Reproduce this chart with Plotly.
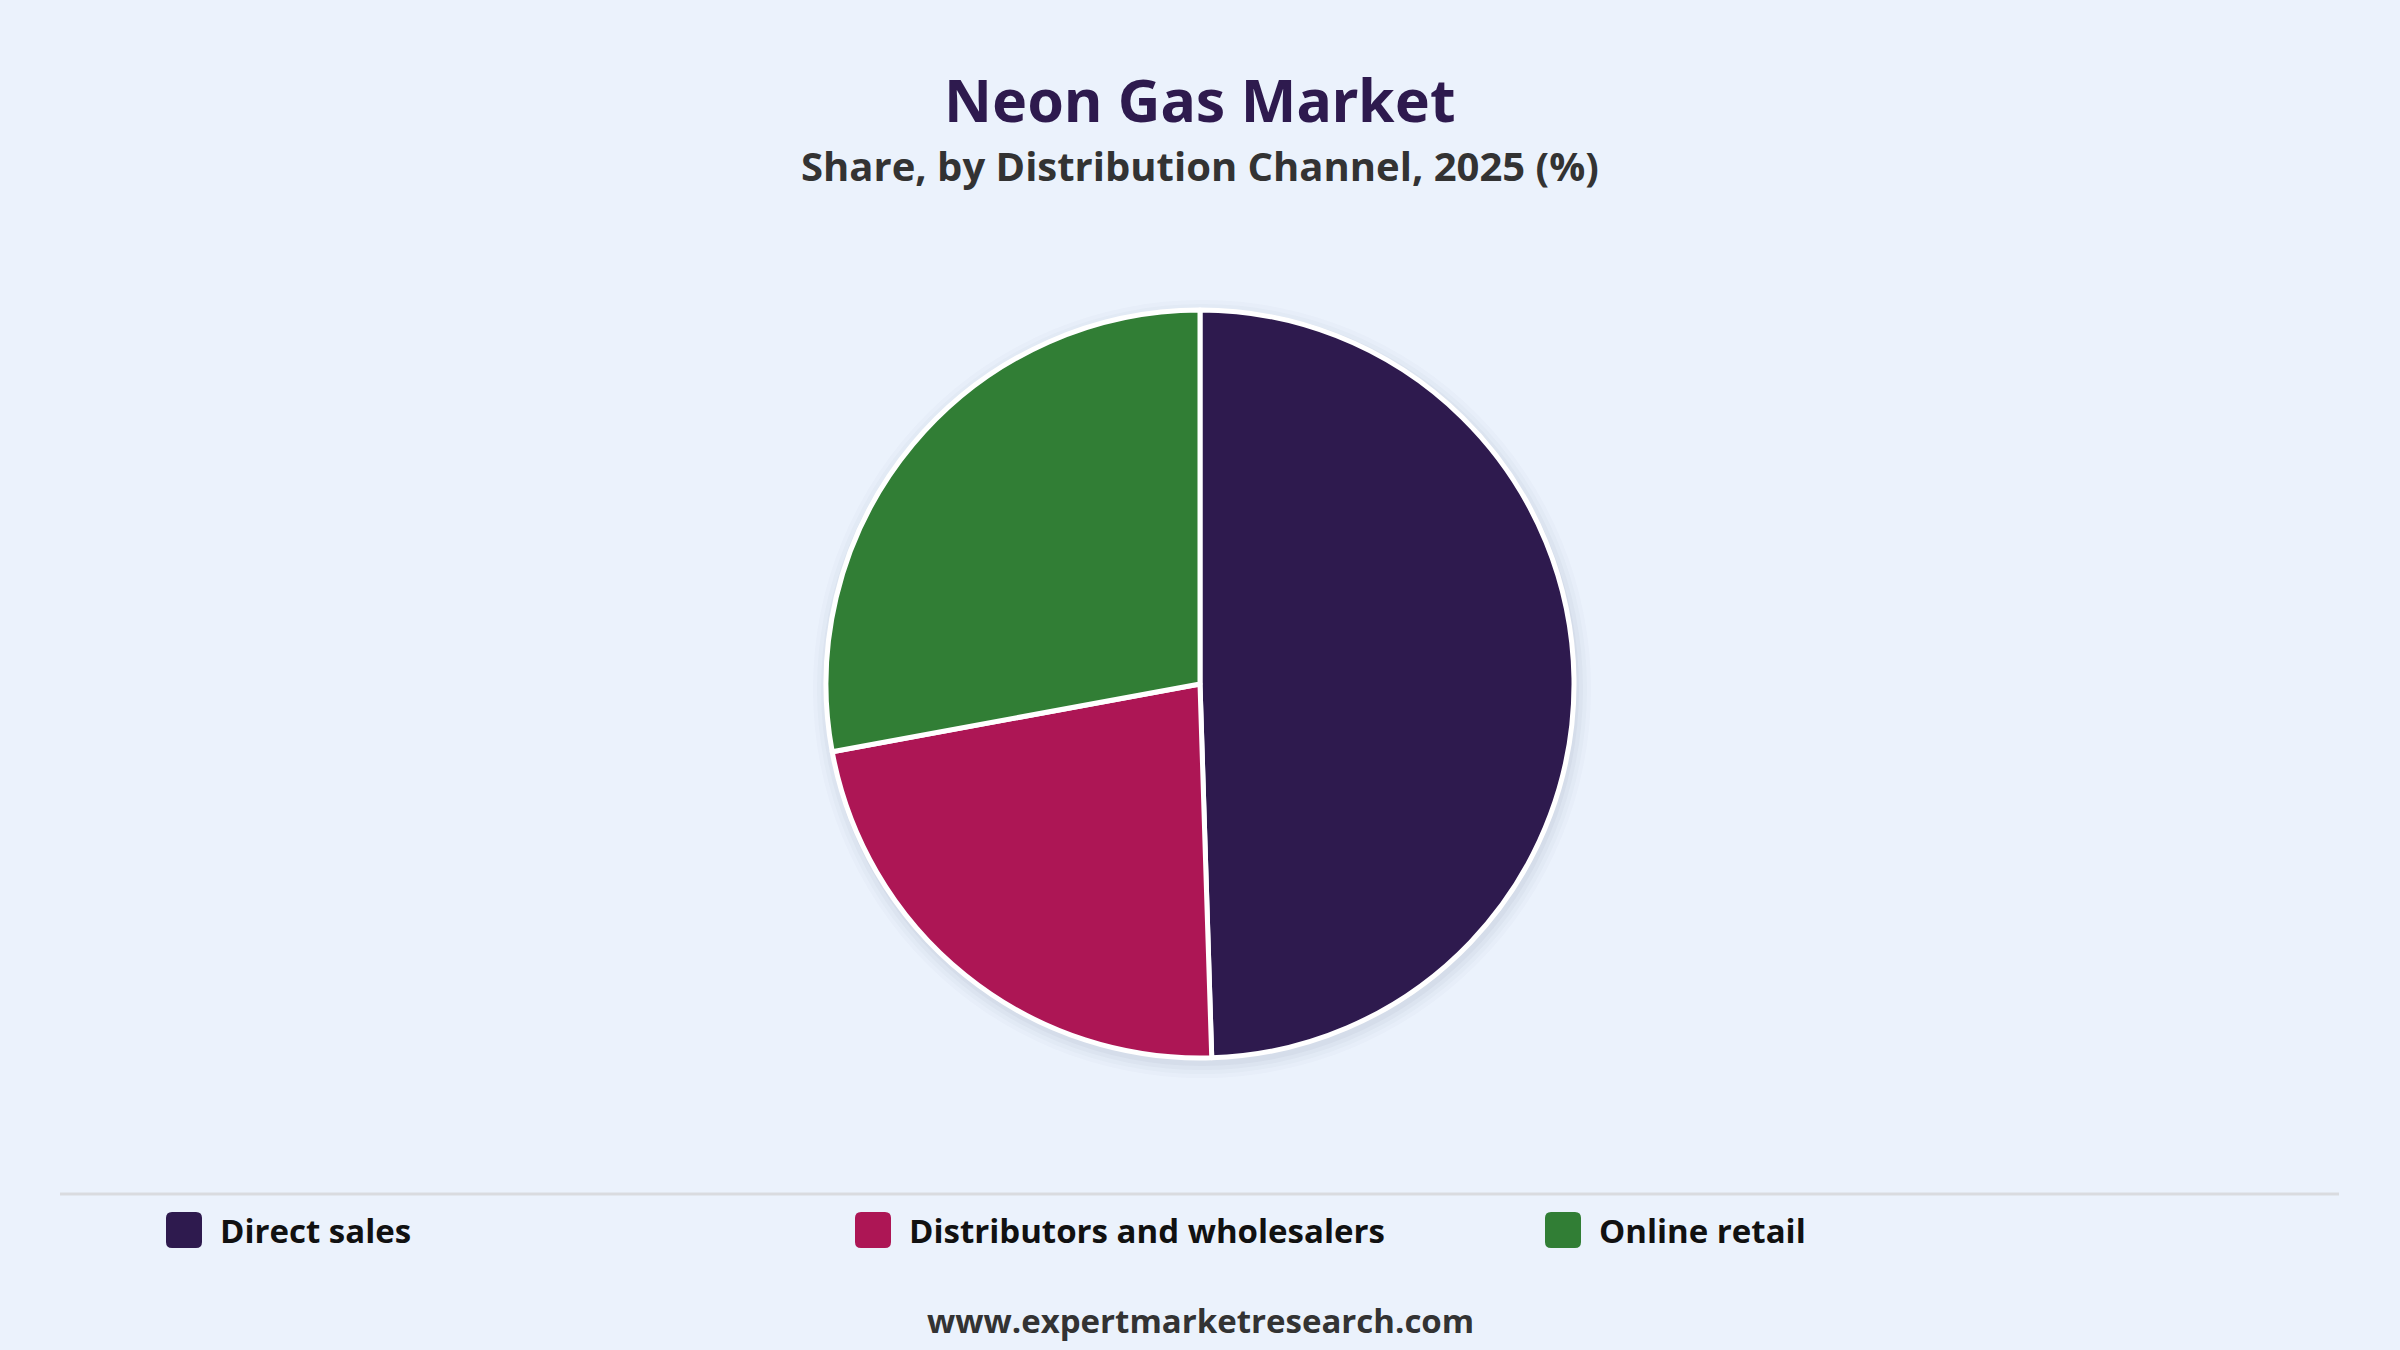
import plotly.graph_objects as go

# chart data
channels = ['Direct sales', 'Distributors and wholesalers', 'Online retail']
shares = [49.5, 22.6, 27.9]
colors = ['#2E1A4E', '#AD1655', '#317E35']

title = 'Neon Gas Market'
subtitle = 'Share, by Distribution Channel, 2025 (%)'
footer = 'www.expertmarketresearch.com'

W, H = 2400, 1350
BG = '#EBF2FC'
FONT = 'Open Sans, Noto Sans, sans-serif'

# pie placement in pixels
cx, cy, r = 1200, 684, 374


def px(x):
    return x / W


def py(y):
    return 1 - y / H


fig = go.Figure()

fig.add_trace(go.Pie(
    labels=channels, values=shares, sort=False, direction='clockwise',
    rotation=0, textinfo='none', hoverinfo='label+percent',
    marker=dict(colors=colors, line=dict(color='white', width=5)),
    domain=dict(x=[px(cx - r), px(cx + r)], y=[py(cy + r), py(cy - r)]),
    showlegend=False))

shapes = []
# soft shadow under the pie
for i, a in enumerate([0.035, 0.03, 0.025, 0.02]):
    rr = r + 3 + i * 4
    shapes.append(dict(type='circle', xref='paper', yref='paper', layer='below',
                       x0=px(cx - rr + 2), x1=px(cx + rr + 2),
                       y0=py(cy + rr + 5), y1=py(cy - rr + 5),
                       fillcolor='rgba(60,70,90,%s)' % a, line=dict(width=0)))

# separator line above legend
shapes.append(dict(type='line', xref='paper', yref='paper',
                   x0=px(60), x1=px(2339), y0=py(1194), y1=py(1194),
                   line=dict(color='#D9DBDF', width=3)))

annotations = [
    dict(text='<b>' + title + '</b>', x=0.5, y=py(99), xref='paper', yref='paper',
         showarrow=False, font=dict(family='Noto Sans, ' + FONT, size=59, color='#2E1A4E', weight=900),
         xanchor='center', yanchor='middle'),
    dict(text=subtitle, x=0.5, y=py(166), xref='paper', yref='paper',
         showarrow=False, font=dict(family=FONT, size=40, color='#333333', weight=700),
         xanchor='center', yanchor='middle'),
    dict(text=footer, x=0.5, y=py(1320), xref='paper', yref='paper',
         showarrow=False, font=dict(family=FONT, size=33, color='#333333', weight=700),
         xanchor='center', yanchor='middle'),
]

# custom legend with rounded swatches
leg_x = [166, 855, 1545]
leg_y = 1230
sw = 36
rad = 6
for name, col, lx in zip(channels, colors, leg_x):
    x0, x1 = px(lx), px(lx + sw)
    y0, y1 = py(leg_y + sw / 2), py(leg_y - sw / 2)
    dx, dy = rad / W, rad / H
    path = ('M {a},{b} L {c},{b} Q {x1},{b} {x1},{d} L {x1},{e} Q {x1},{y1} {c},{y1} '
            'L {a},{y1} Q {x0},{y1} {x0},{e} L {x0},{d} Q {x0},{b} {a},{b} Z').format(
        a=x0 + dx, b=y0, c=x1 - dx, d=y0 + dy, e=y1 - dy, x0=x0, x1=x1, y1=y1)
    shapes.append(dict(type='path', xref='paper', yref='paper', path=path,
                       fillcolor=col, line=dict(width=0)))
    annotations.append(dict(text=name, x=px(lx + sw + 16), y=py(leg_y), xref='paper',
                            yref='paper', showarrow=False, xanchor='left', yanchor='middle',
                            font=dict(family=FONT, size=33, color='#111111', weight=700)))

fig.update_layout(
    width=W, height=H, paper_bgcolor=BG, plot_bgcolor=BG,
    margin=dict(l=0, r=0, t=0, b=0),
    shapes=shapes, annotations=annotations)

fig.write_html('out.html', config={'displayModeBar': False},
               post_script="document.body.style.margin='0';")
